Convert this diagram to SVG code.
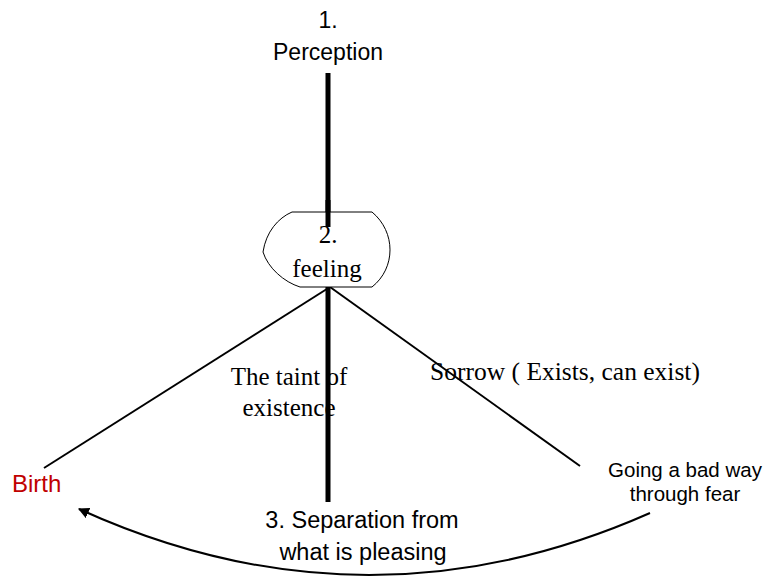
<svg xmlns="http://www.w3.org/2000/svg" width="771" height="581" viewBox="0 0 771 581">
<style>
.sans{font-family:"Liberation Sans",Arial,sans-serif;fill:#000}
.serif{font-family:"Liberation Serif","Times New Roman",serif;fill:#000;font-size:25px}
.thick{stroke:#000;stroke-width:5;fill:none}
.thin{stroke:#000;stroke-width:2;fill:none}
</style>
<defs>
<marker id="arr" viewBox="0 0 10 10" refX="9" refY="5" markerWidth="11" markerHeight="11" markerUnits="userSpaceOnUse" orient="auto">
<path d="M0,0 L10,5 L0,10 z" fill="#000"/>
</marker>
</defs>
<g id="connectors">
<line class="thick" x1="328" y1="73" x2="328" y2="232"/>
<line class="thick" x1="328" y1="287" x2="328" y2="502"/>
<line class="thin" x1="330" y1="287" x2="44" y2="468"/>
<line class="thin" x1="330" y1="287" x2="580" y2="466"/>
<path class="thin" d="M650,513 Q365,639 79,509" stroke-width="1.5" marker-end="url(#arr)"/>
</g>
<g id="perception">
<text class="sans" x="328" y="28" font-size="23" text-anchor="middle">1.</text>
<text class="sans" x="328" y="60" font-size="23" text-anchor="middle">Perception</text>
</g>
<g id="feeling">
<path d="M292,212 L372,212 C396,232 396,268 372,287 L300,287 C284,282 268,268 263,252 C266,232 278,218 292,212 z" fill="#fff" stroke="#000" stroke-width="1"/>
<line class="thick" x1="328" y1="200" x2="328" y2="227"/>
<text class="serif" x="328" y="243" text-anchor="middle">2.</text>
<text class="serif" x="327" y="277" text-anchor="middle">feeling</text>
</g>
<g id="taint">
<text class="serif" x="289" y="385" text-anchor="middle">The taint of</text>
<text class="serif" x="289" y="416" text-anchor="middle">existence</text>
</g>
<g id="sorrow">
<text class="serif" x="565" y="380" text-anchor="middle" style="font-size:25.5px">Sorrow ( Exists, can exist)</text>
</g>
<g id="birth">
<text class="sans" x="12" y="492" font-size="24" style="fill:#C00000">Birth</text>
</g>
<g id="separation">
<text class="sans" x="362" y="528" font-size="23.5" text-anchor="middle">3. Separation from</text>
<text class="sans" x="363" y="560" font-size="23.5" text-anchor="middle">what is pleasing</text>
</g>
<g id="going">
<text class="sans" x="685" y="477" font-size="20.5" text-anchor="middle">Going a bad way</text>
<text class="sans" x="685" y="501" font-size="20.5" text-anchor="middle">through fear</text>
</g>
</svg>
